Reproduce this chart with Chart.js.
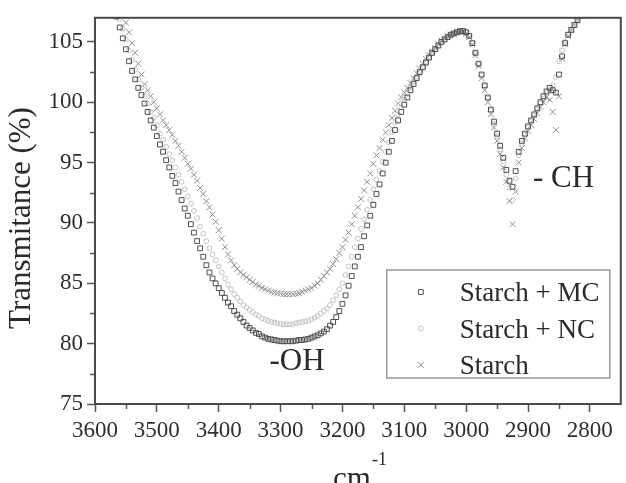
<!DOCTYPE html>
<html><head><meta charset="utf-8">
<script src="https://cdn.jsdelivr.net/npm/chart.js@4"></script>
<style>html,body{margin:0;padding:0;background:#fff}#wrap{width:626px;height:483px;position:relative;overflow:hidden}</style>
</head><body><div id="wrap"><canvas id="c" width="626" height="483"></canvas></div>
<script>
const wavenumbers = [
3570,3565,3560,3555,3550,3545,3540,3535,3530,3525,
3520,3515,3510,3505,3500,3495,3490,3485,3480,3475,
3470,3465,3460,3455,3450,3445,3440,3435,3430,3425,
3420,3415,3410,3405,3400,3395,3390,3385,3380,3375,
3370,3365,3360,3355,3350,3345,3340,3335,3330,3325,
3320,3315,3310,3305,3300,3295,3290,3285,3280,3275,
3270,3265,3260,3255,3250,3245,3240,3235,3230,3225,
3220,3215,3210,3205,3200,3195,3190,3185,3180,3175,
3170,3165,3160,3155,3150,3145,3140,3135,3130,3125,
3120,3115,3110,3105,3100,3095,3090,3085,3080,3075,
3070,3065,3060,3055,3050,3045,3040,3035,3030,3025,
3020,3015,3010,3005,3000,2995,2990,2985,2980,2975,
2970,2965,2960,2955,2950,2945,2940,2935,2930,2925,
2920,2915,2910,2905,2900,2895,2890,2885,2880,2875,
2870,2865,2860,2855,2850,2845,2840,2835,2830,2825,
2820,2815];
const starchMC = [
108.0,107.1,106.2,105.3,104.4,103.4,102.6,101.9,101.2,100.6,
99.9,99.2,98.5,97.9,97.2,96.5,95.9,95.2,94.6,93.9,
93.3,92.6,91.9,91.2,90.6,89.9,89.2,88.5,87.9,87.2,
86.5,85.9,85.4,85.0,84.6,84.2,83.8,83.4,83.1,82.7,
82.4,82.1,81.8,81.5,81.3,81.1,80.9,80.8,80.6,80.5,
80.4,80.35,80.3,80.25,80.2,80.2,80.2,80.2,80.2,80.25,
80.3,80.3,80.35,80.4,80.5,80.6,80.7,80.85,81.0,81.2,
81.5,81.8,82.2,82.7,83.3,84.0,84.8,85.6,86.4,87.2,
88.0,88.9,89.8,90.6,91.5,92.4,93.2,94.1,95.0,95.9,
96.8,97.7,98.5,99.2,99.8,100.4,101.0,101.5,102.0,102.5,
102.9,103.3,103.7,104.1,104.4,104.7,105.0,105.2,105.4,105.6,
105.7,105.8,105.9,105.9,105.8,105.5,104.9,104.1,103.2,102.3,
101.4,100.4,99.4,98.4,97.4,96.4,95.4,94.4,93.5,93.0,
94.3,95.9,96.8,97.4,98.0,98.5,99.0,99.5,100.0,100.5,
100.9,101.2,101.0,100.8,102.3,103.8,104.9,105.6,106.0,106.4,
106.8,107.2];
const starchNC = [
108.7,107.8,106.9,106.1,105.2,104.3,103.5,102.7,101.9,101.2,
100.5,99.9,99.2,98.7,98.1,97.4,96.9,96.3,95.7,95.2,
94.6,94.0,93.4,92.8,92.2,91.6,91.0,90.4,89.7,89.1,
88.5,87.9,87.4,86.9,86.4,85.9,85.4,84.9,84.5,84.1,
83.8,83.5,83.2,83.0,82.8,82.6,82.4,82.3,82.1,82.0,
81.9,81.8,81.75,81.7,81.65,81.6,81.6,81.6,81.6,81.7,
81.75,81.8,81.85,81.9,82.0,82.15,82.3,82.5,82.7,82.9,
83.2,83.6,84.0,84.5,85.0,85.7,86.4,87.2,88.0,88.7,
89.5,90.3,91.1,91.9,92.8,93.6,94.3,95.1,95.9,96.7,
97.5,98.3,99.0,99.6,100.2,100.7,101.2,101.7,102.1,102.6,
103.0,103.4,103.8,104.1,104.4,104.7,105.0,105.2,105.4,105.6,
105.7,105.8,105.9,105.9,105.8,105.5,104.9,104.0,103.1,102.2,
101.3,100.3,99.3,98.2,97.2,96.1,95.1,94.0,92.9,91.9,
93.7,95.6,96.6,97.3,97.9,98.4,98.9,99.4,99.9,100.3,
100.7,101.0,101.4,102.1,103.4,104.3,105.0,105.6,106.0,106.4,
106.8,107.2];
const starch = [
109.9,109.1,108.2,107.4,106.6,105.8,104.9,104.1,103.2,102.3,
101.5,101.0,100.5,100.0,99.5,99.0,98.5,98.1,97.7,97.3,
96.8,96.4,95.9,95.4,94.9,94.5,94.0,93.5,92.9,92.4,
91.8,91.3,90.7,90.1,89.4,88.7,88.0,87.4,86.9,86.5,
86.2,85.9,85.7,85.5,85.3,85.1,84.9,84.8,84.6,84.5,
84.4,84.3,84.25,84.2,84.15,84.1,84.1,84.1,84.1,84.15,
84.2,84.3,84.4,84.5,84.6,84.8,85.0,85.3,85.6,85.9,
86.2,86.6,87.0,87.5,88.0,88.6,89.2,89.9,90.6,91.3,
92.0,92.7,93.4,94.1,94.9,95.6,96.2,96.9,97.5,98.1,
98.7,99.3,99.9,100.4,100.8,101.2,101.6,102.0,102.4,102.8,
103.2,103.6,103.9,104.2,104.5,104.8,105.1,105.3,105.5,105.6,
105.7,105.8,105.8,105.8,105.7,105.4,104.8,103.9,103.0,102.0,
101.0,100.0,99.0,97.9,96.8,95.7,94.6,93.4,91.8,89.9,
92.6,95.0,96.2,97.0,97.6,98.1,98.6,99.1,99.6,100.0,
100.4,100.2,99.2,97.7,100.5,103.6,104.8,105.5,106.0,106.4,
106.8,107.2];
const seriesLabels = ['Starch + MC', 'Starch + NC', 'Starch'];
const xTicks = [3600,3500,3400,3300,3200,3100,3000,2900,2800];
const xMinorTicks = [3550,3450,3350,3250,3150,3050,2950,2850];
const yTicks = [75,80,85,90,95,100,105];
const yMinorTicks = [77.5,82.5,87.5,92.5,97.5,102.5];
const yTitle = 'Transmitance (%)';
const xTitle = 'cm';
const xTitleSup = '-1';
const peakLabels = [{text:'-OH', x:3318, y:77.8}, {text:'- CH', x:2892, y:92.95}];

const SERIF = '"Liberation Serif", "Times New Roman", serif';
const styles = [
  {pointStyle:'rect', radius:3.4, color:'#4f4f4f'},
  {pointStyle:'circle', radius:2.4, color:'#c2c2c2'},
  {pointStyle:'crossRot', radius:4.2, color:'#8e8e8e'}
];
const seriesData = [starchMC, starchNC, starch];

function drawMarker(ctx, st, x, y) {
  ctx.save();
  ctx.strokeStyle = st.color; ctx.lineWidth = 1;
  ctx.beginPath();
  if (st.pointStyle === 'rect') {
    const s = st.radius * Math.SQRT1_2;
    ctx.rect(x - s, y - s, 2 * s, 2 * s);
  } else if (st.pointStyle === 'circle') {
    ctx.arc(x, y, st.radius, 0, Math.PI * 2);
  } else {
    const s = st.radius * Math.SQRT1_2;
    ctx.moveTo(x - s, y - s); ctx.lineTo(x + s, y + s);
    ctx.moveTo(x - s, y + s); ctx.lineTo(x + s, y - s);
  }
  ctx.stroke();
  ctx.restore();
}

const framePlugin = {
  id: 'frame',
  afterDraw(chart) {
    const {ctx, chartArea: a, scales: {x, y}} = chart;
    ctx.save();
    // minor ticks
    ctx.strokeStyle = '#555'; ctx.lineWidth = 1.5;
    ctx.beginPath();
    xMinorTicks.forEach(v => { const p = Math.round(x.getPixelForValue(v)) + 0.5; ctx.moveTo(p, a.bottom); ctx.lineTo(p, a.bottom + 5); });
    yMinorTicks.forEach(v => { const p = Math.round(y.getPixelForValue(v)) + 0.5; ctx.moveTo(a.left, p); ctx.lineTo(a.left - 5, p); });
    ctx.stroke();
    // frame
    ctx.strokeStyle = '#4a4a4a'; ctx.lineWidth = 2;
    ctx.strokeRect(a.left, a.top, a.right - a.left, a.bottom - a.top);
    // axis titles
    ctx.fillStyle = '#2a2a2a';
    ctx.font = '31px ' + SERIF;
    ctx.save();
    ctx.translate(22, 218); ctx.rotate(-Math.PI / 2);
    ctx.textAlign = 'center'; ctx.textBaseline = 'middle';
    ctx.fillText(yTitle, 0, 0);
    ctx.restore();
    ctx.textAlign = 'left'; ctx.textBaseline = 'alphabetic';
    ctx.fillText(xTitle, 333, 488);
    ctx.font = '18px ' + SERIF;
    ctx.fillText(xTitleSup, 372, 465);
    // peak labels
    ctx.font = '31px ' + SERIF;
    peakLabels.forEach(l => ctx.fillText(l.text, x.getPixelForValue(l.x), y.getPixelForValue(l.y)));
    // legend
    const bw = 223, bh = 108;
    const bx = a.right - 11 - bw, by = a.bottom - 26 - bh;
    ctx.fillStyle = '#fff'; ctx.fillRect(bx, by, bw, bh);
    ctx.strokeStyle = '#9a9a9a'; ctx.lineWidth = 1.5;
    ctx.strokeRect(bx, by, bw, bh);
    ctx.font = '27px ' + SERIF; ctx.fillStyle = '#2a2a2a';
    seriesLabels.forEach((lab, i) => {
      const base = by + 31 + i * 36.5;
      drawMarker(ctx, styles[i], bx + 34, base - 9);
      ctx.fillText(lab, bx + 73, base);
    });
    ctx.restore();
  }
};

const datasets = seriesLabels.map((lab, i) => ({
  label: lab,
  data: wavenumbers.map((w, j) => ({x: w, y: seriesData[i][j]})),
  pointStyle: styles[i].pointStyle,
  pointRadius: styles[i].radius,
  pointBorderWidth: 1,
  borderColor: styles[i].color,
  backgroundColor: 'rgba(0,0,0,0)',
  pointBackgroundColor: 'rgba(0,0,0,0)',
  showLine: false
}));

new Chart(document.getElementById('c').getContext('2d'), {
  type: 'scatter',
  data: {datasets},
  options: {
    responsive: false, animation: false, devicePixelRatio: 1,
    layout: {padding: {left: 0, right: 3, top: 13, bottom: 0}},
    plugins: {legend: {display: false}, tooltip: {enabled: false}},
    scales: {
      x: {
        type: 'linear', reverse: true, min: 2750, max: 3600,
        afterFit(s) { s.height = 79; },
        afterBuildTicks(s) { s.ticks = xTicks.map(v => ({value: v})); },
        grid: {display: true, drawOnChartArea: false, tickLength: 8, tickColor: '#555', tickWidth: 1.5},
        border: {display: false},
        ticks: {font: {family: SERIF, size: 23}, color: '#2e2e2e', padding: 5, maxRotation: 0, autoSkip: false, callback: v => String(v)}
      },
      y: {
        type: 'linear', min: 75, max: 107,
        afterFit(s) { s.width = 95; },
        afterBuildTicks(s) { s.ticks = yTicks.map(v => ({value: v})); },
        grid: {display: true, drawOnChartArea: false, tickLength: 8, tickColor: '#555', tickWidth: 1.5},
        border: {display: false},
        ticks: {font: {family: SERIF, size: 23}, color: '#2e2e2e', padding: 4, autoSkip: false, callback: v => String(v)}
      }
    }
  },
  plugins: [framePlugin]
});
</script></body></html>
